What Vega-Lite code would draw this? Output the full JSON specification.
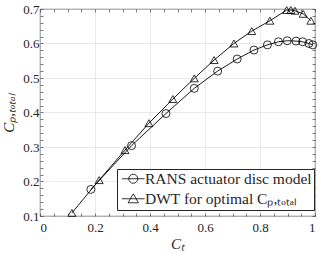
{
  "$schema": "https://vega.github.io/schema/vega-lite/v6.json",
  "width": 275,
  "height": 207,
  "autosize": {"type": "none"},
  "padding": {"left": 40, "top": 9, "right": 5, "bottom": 37},
  "background": "white",
  "config": {
    "view": {"stroke": "#262626", "strokeWidth": 0.8},
    "axis": {
      "labelFont": "Liberation Serif",
      "labelFontSize": 13,
      "labelColor": "#262626",
      "titleFont": "Liberation Serif",
      "titleFontStyle": "italic",
      "titleFontWeight": "normal",
      "titleFontSize": 15,
      "titleColor": "#262626",
      "domain": false,
      "tickColor": "#262626",
      "tickWidth": 0.6,
      "tickSize": -3,
      "gridColor": "#dadada",
      "gridWidth": 0.6,
      "labelOverlap": false
    }
  },
  "data": {
    "values": [
      {"model": "RANS actuator disc model", "ct": 0.185, "cp": 0.177},
      {"model": "RANS actuator disc model", "ct": 0.333, "cp": 0.304},
      {"model": "RANS actuator disc model", "ct": 0.458, "cp": 0.397},
      {"model": "RANS actuator disc model", "ct": 0.561, "cp": 0.470},
      {"model": "RANS actuator disc model", "ct": 0.646, "cp": 0.520},
      {"model": "RANS actuator disc model", "ct": 0.717, "cp": 0.555},
      {"model": "RANS actuator disc model", "ct": 0.778, "cp": 0.581},
      {"model": "RANS actuator disc model", "ct": 0.827, "cp": 0.596},
      {"model": "RANS actuator disc model", "ct": 0.867, "cp": 0.605},
      {"model": "RANS actuator disc model", "ct": 0.899, "cp": 0.608},
      {"model": "RANS actuator disc model", "ct": 0.931, "cp": 0.607},
      {"model": "RANS actuator disc model", "ct": 0.955, "cp": 0.605},
      {"model": "RANS actuator disc model", "ct": 0.978, "cp": 0.600},
      {"model": "RANS actuator disc model", "ct": 0.992, "cp": 0.596},
      {"model": "DWT for optimal Cₚ,ₜₒₜₐₗ", "ct": 0.116, "cp": 0.109},
      {"model": "DWT for optimal Cₚ,ₜₒₜₐₗ", "ct": 0.215, "cp": 0.204},
      {"model": "DWT for optimal Cₚ,ₜₒₜₐₗ", "ct": 0.309, "cp": 0.291},
      {"model": "DWT for optimal Cₚ,ₜₒₜₐₗ", "ct": 0.396, "cp": 0.369},
      {"model": "DWT for optimal Cₚ,ₜₒₜₐₗ", "ct": 0.483, "cp": 0.439},
      {"model": "DWT for optimal Cₚ,ₜₒₜₐₗ", "ct": 0.561, "cp": 0.499},
      {"model": "DWT for optimal Cₚ,ₜₒₜₐₗ", "ct": 0.633, "cp": 0.552},
      {"model": "DWT for optimal Cₚ,ₜₒₜₐₗ", "ct": 0.705, "cp": 0.600},
      {"model": "DWT for optimal Cₚ,ₜₒₜₐₗ", "ct": 0.770, "cp": 0.636},
      {"model": "DWT for optimal Cₚ,ₜₒₜₐₗ", "ct": 0.836, "cp": 0.666},
      {"model": "DWT for optimal Cₚ,ₜₒₜₐₗ", "ct": 0.897, "cp": 0.697},
      {"model": "DWT for optimal Cₚ,ₜₒₜₐₗ", "ct": 0.912, "cp": 0.697},
      {"model": "DWT for optimal Cₚ,ₜₒₜₐₗ", "ct": 0.927, "cp": 0.695},
      {"model": "DWT for optimal Cₚ,ₜₒₜₐₗ", "ct": 0.957, "cp": 0.686},
      {"model": "DWT for optimal Cₚ,ₜₒₜₐₗ", "ct": 0.985, "cp": 0.666}
    ]
  },
  "layer": [
    {
      "mark": {"type": "line", "color": "black", "strokeWidth": 0.9},
      "encoding": {
        "x": {
          "field": "ct", "type": "quantitative",
          "scale": {"domain": [0, 1], "nice": false, "zero": false},
          "axis": {
            "orient": "bottom",
            "title": "Cₜ",
            "titlePadding": 2,
            "values": [0,0.05,0.1,0.15,0.2,0.25,0.3,0.35,0.4,0.45,0.5,0.55,0.6,0.65,0.7,0.75,0.8,0.85,0.9,0.95,1],
            "labelExpr": "abs(datum.value*5 - round(datum.value*5)) < 1e-6 ? format(datum.value, '~g') : ''",
            "gridOpacity": {"condition": {"test": "abs(datum.value*5 - round(datum.value*5)) < 1e-6", "value": 1}, "value": 0},
            "labelPadding": 8
          }
        },
        "y": {
          "field": "cp", "type": "quantitative",
          "scale": {"domain": [0.1, 0.7], "nice": false, "zero": false},
          "axis": {
            "orient": "left",
            "title": "Cₚ,ₜₒₜₐₗ",
            "titlePadding": 6,
            "values": [0.1,0.12,0.14,0.16,0.18,0.2,0.22,0.24,0.26,0.28,0.3,0.32,0.34,0.36,0.38,0.4,0.42,0.44,0.46,0.48,0.5,0.52,0.54,0.56,0.58,0.6,0.62,0.64,0.66,0.68,0.7],
            "labelExpr": "abs(datum.value*10 - round(datum.value*10)) < 1e-6 ? format(datum.value, '.1f') : ''",
            "gridOpacity": {"condition": {"test": "abs(datum.value*10 - round(datum.value*10)) < 1e-6", "value": 1}, "value": 0},
            "labelPadding": 4
          }
        },
        "detail": {"field": "model"}
      }
    },
    {
      "mark": {"type": "point", "filled": false, "color": "black", "size": 64, "strokeWidth": 0.8, "opacity": 1},
      "encoding": {
        "x": {"field": "ct", "type": "quantitative", "axis": null},
        "y": {"field": "cp", "type": "quantitative", "axis": null},
        "shape": {
          "field": "model", "type": "nominal",
          "scale": {"domain": ["RANS actuator disc model", "DWT for optimal Cₚ,ₜₒₜₐₗ"], "range": ["circle", "triangle-up"]},
          "legend": null
        }
      }
    },
    {
      "mark": {"type": "point", "filled": false, "color": "black", "opacity": 0, "strokeWidth": 0.8},
      "encoding": {
        "x": {"field": "ct", "type": "quantitative", "axis": null},
        "y": {"field": "cp", "type": "quantitative", "axis": null},
        "shape": {
          "field": "model", "type": "nominal",
          "scale": {
            "domain": ["RANS actuator disc model", "DWT for optimal Cₚ,ₜₒₜₐₗ"],
            "range": ["M-2.5,0H2.5M-1,0A1,1 0 1,0 1,0A1,1 0 1,0 -1,0", "M-2.5,0H2.5M0,-1.1L1.15,0.9L-1.15,0.9Z"]
          },
          "legend": {
            "orient": "none",
            "legendX": 77,
            "legendY": 160,
            "title": null,
            "strokeColor": "#262626",
            "fillColor": "white",
            "padding": 2,
            "symbolSize": 81,
            "symbolOffset": 6.5,
            "labelOffset": 4,
            "rowPadding": 3,
            "labelLimit": 0,
            "labelFont": "Liberation Serif",
            "labelFontSize": 15.5,
            "labelColor": "#262626",
            "symbolOpacity": 1,
            "symbolStrokeColor": "black",
            "symbolStrokeWidth": 0.8,
            "symbolFillColor": "transparent"
          }
        }
      }
    },
    {
      "mark": {"type": "point", "opacity": 0},
      "encoding": {
        "x": {
          "field": "ct", "type": "quantitative",
          "axis": {
            "orient": "top", "title": null, "labels": false, "grid": false,
            "values": [0,0.05,0.1,0.15,0.2,0.25,0.3,0.35,0.4,0.45,0.5,0.55,0.6,0.65,0.7,0.75,0.8,0.85,0.9,0.95,1]
          }
        },
        "y": {
          "field": "cp", "type": "quantitative",
          "axis": {
            "orient": "right", "title": null, "labels": false, "grid": false,
            "values": [0.1,0.12,0.14,0.16,0.18,0.2,0.22,0.24,0.26,0.28,0.3,0.32,0.34,0.36,0.38,0.4,0.42,0.44,0.46,0.48,0.5,0.52,0.54,0.56,0.58,0.6,0.62,0.64,0.66,0.68,0.7]
          }
        }
      }
    }
  ],
  "resolve": {"scale": {"shape": "independent"}, "axis": {"x": "independent", "y": "independent"}}
}
